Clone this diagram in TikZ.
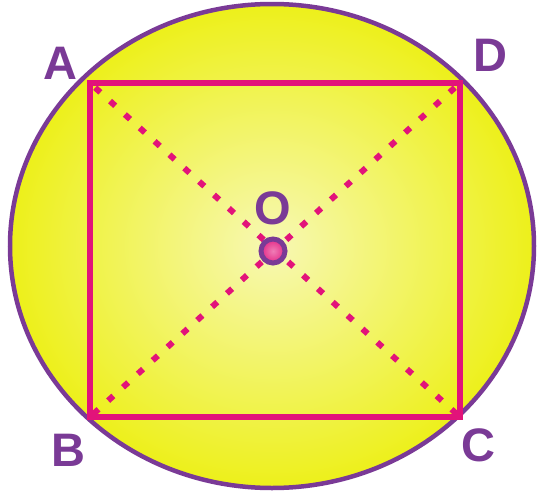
\documentclass[tikz,border=0pt]{standalone}
\usepackage{fontspec}
\setmainfont{Liberation Sans}
\usepackage{tikz}

\definecolor{rimpurple}{HTML}{7A3A96}
\definecolor{sqpink}{HTML}{E2137A}
\definecolor{paleyellow}{HTML}{F7F8B4}
\definecolor{deepyellow}{HTML}{EDF01A}

\begin{document}
\begin{tikzpicture}[x=1pt,y=-1pt,
    rim/.style={draw=rimpurple,line width=4.5pt},
    side/.style={draw=sqpink,line width=5.5pt,line join=miter},
    diag/.style={draw=sqpink,line width=6pt,dash pattern=on 7pt off 13pt,dash phase=-7pt},
    lbl/.style={text=rimpurple,inner sep=0pt,font=\fontsize{47}{47}\selectfont\bfseries}
]
\useasboundingbox (0,0) rectangle (539,493);
% circle round the square
\draw[rim,inner color=paleyellow,outer color=deepyellow] (272,246) ellipse [x radius=262pt, y radius=242pt];

\coordinate (A) at (90,83);
\coordinate (D) at (460,83);
\coordinate (C) at (460,417);
\coordinate (B) at (90,417);
\coordinate (O) at (273,251);

\draw[diag] (A) -- (C);
\draw[diag] (D) -- (B);
\draw[side] (A) -- (D) -- (C) -- (B) -- cycle;

\filldraw[draw=rimpurple,inner color=sqpink!55,outer color=sqpink!90,line width=5pt] (O) circle[radius=12pt];

\node[lbl] (labA) at (60,63) {A};
\node[lbl] (labD) at (490,55) {D};
\node[lbl] (labB) at (68,450) {B};
\node[lbl] (labC) at (478,445) {C};
\node[lbl] (labO) at (273,208) {O};
\end{tikzpicture}
\end{document}
